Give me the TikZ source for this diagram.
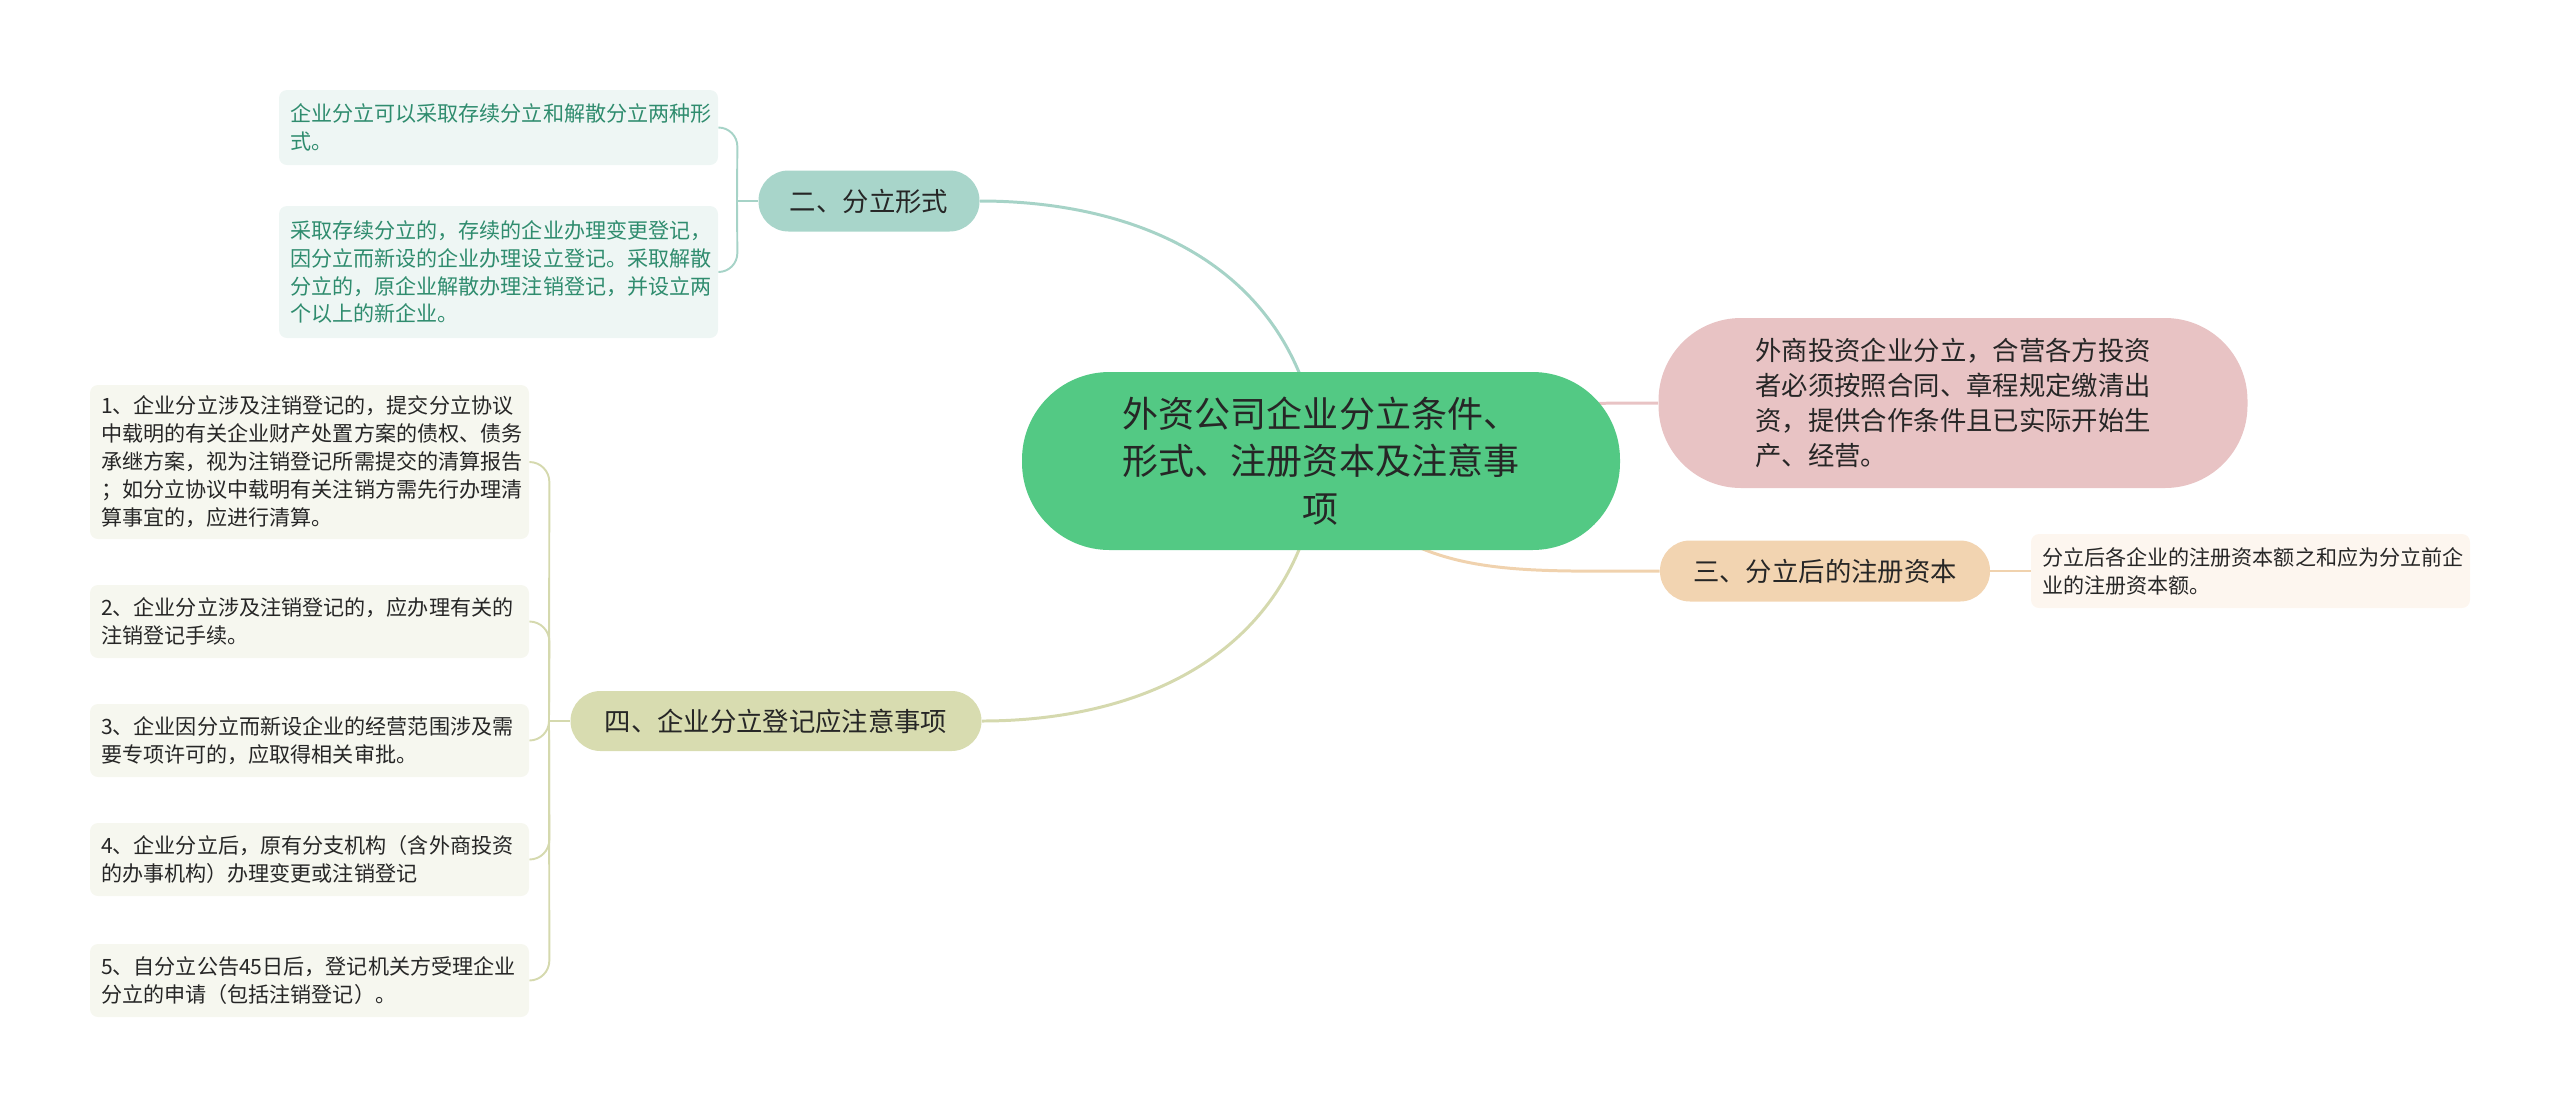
\documentclass[tikz,border=0pt]{standalone}
\usepackage{fontspec}
\setmainfont{Noto Sans CJK SC}
\usepackage{tikz}
\pgfdeclarelayer{bg}
\pgfsetlayers{bg,main}
\definecolor{rootfill}{HTML}{53C984}
\definecolor{tealfill}{HTML}{A8D5CA}
\definecolor{tealline}{HTML}{A6D3C7}
\definecolor{tealleaf}{HTML}{EEF6F4}
\definecolor{tealtext}{HTML}{2F8C6E}
\definecolor{olivefill}{HTML}{D8DCB0}
\definecolor{oliveline}{HTML}{D5D9AE}
\definecolor{oliveleaf}{HTML}{F6F7EF}
\definecolor{pinkfill}{HTML}{E8C3C4}
\definecolor{pinkline}{HTML}{E8C3C4}
\definecolor{peachfill}{HTML}{F2D4B1}
\definecolor{peachline}{HTML}{F0D2AE}
\definecolor{peachleaf}{HTML}{FDF6EF}
\definecolor{darktext}{HTML}{262626}

\begin{document}
\begin{tikzpicture}[-,auto]
\tikzstyle{root}=[rectangle,rounded corners=1.75cm,fill=rootfill,minimum width=11.96cm,minimum height=3.56cm,align=center,text=darktext,font=\fontsize{20.5pt}{27pt}\selectfont]
\tikzstyle{branch}=[rectangle,rounded corners=0.6cm,minimum height=1.22cm,inner xsep=0pt,align=center,text=darktext,font=\fontsize{15pt}{20pt}\selectfont]
\tikzstyle{leaf}=[rectangle,rounded corners=0.16cm,text width=8.34cm,inner xsep=0.22cm,inner ysep=0pt,align=left,text=darktext,font=\fontsize{12pt}{15.9pt}\selectfont]
\tikzstyle{link}=[line width=1.7pt]
\tikzstyle{brace}=[line width=1.1pt]
\useasboundingbox (0,0) rectangle (51.2,-22.16);
% centre
\node [root] (0) at(26.42,-9.22) {外资公司企业分立条件、\\形式、注册资本及注意事\\项};
% left top
\node [branch,fill=tealfill,minimum width=4.42cm] (1) at(17.38,-4.02) {二、分立形式};
\node [leaf,fill=tealleaf,text=tealtext,minimum height=1.5cm] (2) at(9.97,-2.55) {企业分立可以采取存续分立和解散分立两种形\\式。};
\node [leaf,fill=tealleaf,text=tealtext,minimum height=2.64cm] (3) at(9.97,-5.44) {采取存续分立的，存续的企业办理变更登记，\\因分立而新设的企业办理设立登记。采取解散\\分立的，原企业解散办理注销登记，并设立两\\个以上的新企业。};
% right
\node [branch,fill=pinkfill,rounded corners=1.65cm,minimum width=11.78cm,minimum height=3.4cm,text width=7.9cm,align=left,font=\fontsize{15pt}{19.9pt}\selectfont] (4) at(39.06,-8.06) {外商投资企业分立，合营各方投资\\者必须按照合同、章程规定缴清出\\资，提供合作条件且已实际开始生\\产、经营。};
\node [branch,fill=peachfill,minimum width=6.6cm] (5) at(36.5,-11.42) {三、分立后的注册资本};
\node [leaf,fill=peachleaf,minimum height=1.48cm] (6) at(45.01,-11.42) {分立后各企业的注册资本额之和应为分立前企\\业的注册资本额。};
% left bottom
\node [branch,fill=olivefill,minimum width=8.22cm,minimum height=1.2cm] (7) at(15.52,-14.42) {四、企业分立登记应注意事项};
\node [leaf,fill=oliveleaf,minimum height=3.08cm] (8) at(6.19,-9.24) {1、企业分立涉及注销登记的，提交分立协议\\中载明的有关企业财产处置方案的债权、债务\\承继方案，视为注销登记所需提交的清算报告\\；如分立协议中载明有关注销方需先行办理清\\算事宜的，应进行清算。};
\node [leaf,fill=oliveleaf,minimum height=1.46cm] (9) at(6.19,-12.43) {2、企业分立涉及注销登记的，应办理有关的\\注销登记手续。};
\node [leaf,fill=oliveleaf,minimum height=1.46cm] (10) at(6.19,-14.81) {3、企业因分立而新设企业的经营范围涉及需\\要专项许可的，应取得相关审批。};
\node [leaf,fill=oliveleaf,minimum height=1.46cm] (11) at(6.19,-17.19) {4、企业分立后，原有分支机构（含外商投资\\的办事机构）办理变更或注销登记};
\node [leaf,fill=oliveleaf,minimum height=1.46cm] (12) at(6.19,-19.61) {5、自分立公告45日后，登记机关方受理企业\\分立的申请（包括注销登记）。};
\coordinate (j1) at(14.74,-4.02);
\coordinate (j7) at(10.98,-14.42);
\begin{pgfonlayer}{bg}
\draw [link,tealline] (1.east) .. controls +(3,0) and +(-0.42,4.02) .. (0.center);
\draw [link,oliveline] (7.east) .. controls +(3,0) and +(-0.42,-4.0) .. (0.center);
\draw [link,pinkline] (0.center) .. controls +(2.6,1.16) and +(-2.2,0) .. (4.west);
\draw [link,peachline] (0.center) .. controls +(1.58,-2.38) and +(-3.2,0) .. (5.west);
\path [brace,peachline] (5) edge (6);
\draw [brace,tealline] (2.east) to[out=0,in=90] ++(0.38,-0.38) -- (j1);
\draw [brace,tealline] (3.east) to[out=0,in=-90] ++(0.38,0.38) -- (j1);
\draw [brace,tealline] (j1) -- (1.west);
\draw [brace,oliveline] (8.east) to[out=0,in=90] ++(0.4,-0.4) -- (j7);
\draw [brace,oliveline] (9.east) to[out=0,in=90] ++(0.4,-0.4) -- (j7);
\draw [brace,oliveline] (10.east) to[out=0,in=-90] (j7);
\draw [brace,oliveline] (11.east) to[out=0,in=-90] ++(0.4,0.4) -- (j7);
\draw [brace,oliveline] (12.east) to[out=0,in=-90] ++(0.4,0.4) -- (j7);
\draw [brace,oliveline] (j7) -- (7.west);
\end{pgfonlayer}
\end{tikzpicture}
\end{document}
